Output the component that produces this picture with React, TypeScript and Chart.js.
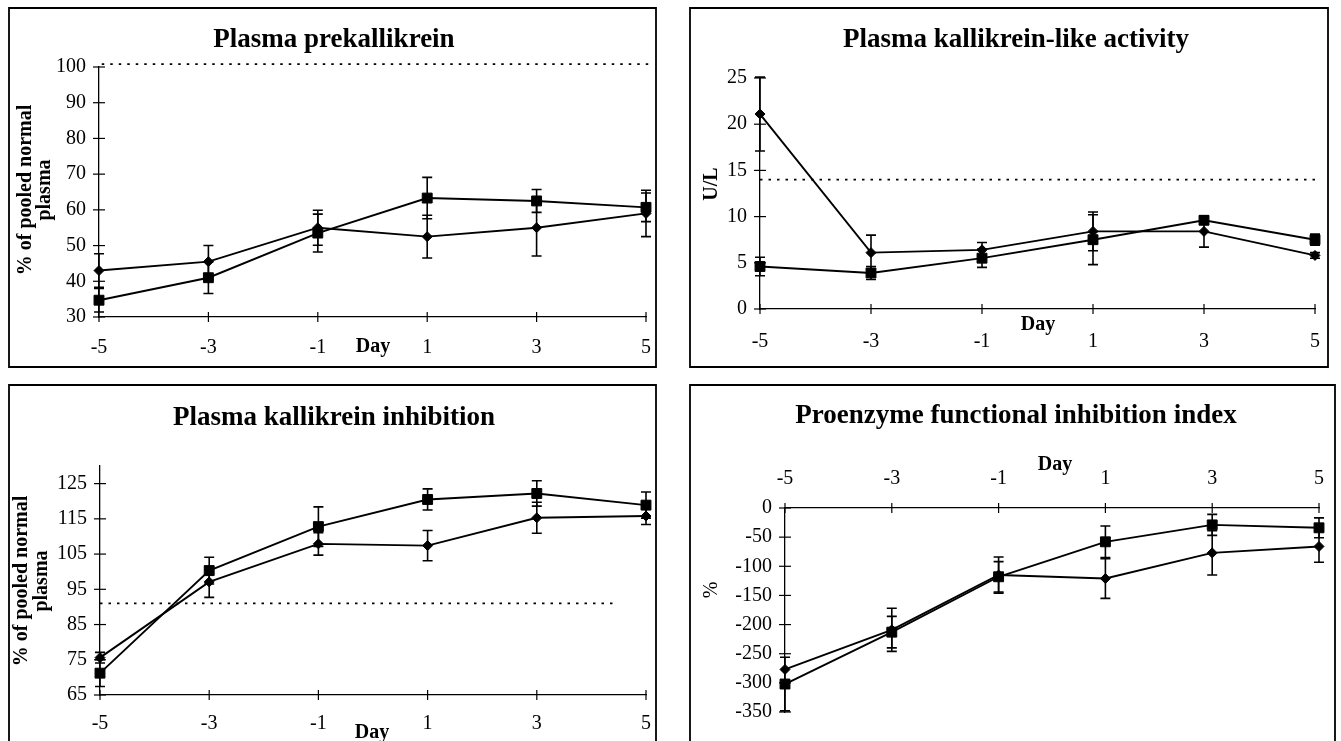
import React, { useEffect, useRef } from 'react';
import { Chart, registerables } from 'chart.js';
Chart.register(...registerables);

const days = [-5, -3, -1, 1, 3, 5];

// Panel 1: Plasma prekallikrein
const prekTitle = 'Plasma prekallikrein';
const prekYTicks = [30, 40, 50, 60, 70, 80, 90, 100];
const prekDiamond = [43, 45.5, 55, 52.5, 55, 59];
const prekDiamondErr = [4.7, 4.5, 4.9, 6, 7.9, 6.5];
const prekSquare = [34.7, 41, 53.5, 63.3, 62.5, 60.7];
const prekSquareErr = [3.3, 4.4, 5.3, 5.8, 3.2, 4];
const prekNormal = 100.8;
const prekNormalX = [-4.95, 5.1];

// Panel 2: Plasma kallikrein-like activity
const klaTitle = 'Plasma kallikrein-like activity';
const klaYTicks = [0, 5, 10, 15, 20, 25];
const klaDiamond = [21.1, 6.1, 6.4, 8.4, 8.4, 5.8];
const klaDiamondErr = [4, 1.9, 0.8, 2.1, 1.7, 0.3];
const klaSquare = [4.6, 3.9, 5.5, 7.5, 9.6, 7.5];
const klaSquareErr = [1, 0.7, 1, 2.7, 0.4, 0.6];
const klaNormal = 14;
const klaNormalX = [-5, 5];

// Panel 3: Plasma kallikrein inhibition
const kiTitle = 'Plasma kallikrein inhibition';
const kiYTicks = [65, 75, 85, 95, 105, 115, 125];
const kiDiamond = [75.6, 97.1, 107.9, 107.4, 115.3, 115.8];
const kiDiamondErr = [1.5, 4.4, 3.2, 4.3, 4.4, 2.4];
const kiSquare = [71.2, 100.3, 112.8, 120.5, 122.2, 118.9];
const kiSquareErr = [3.8, 3.8, 5.6, 3, 3.6, 3.7];
const kiNormal = 91;
const kiNormalX = [-5, 4.4];

// Panel 4: Proenzyme functional inhibition index
const pfiTitle = 'Proenzyme functional inhibition index';
const pfiYTicks = [-350, -300, -250, -200, -150, -100, -50, 0];
const pfiDiamond = [-277, -209, -115, -121, -77, -66];
const pfiDiamondErr = [0, 37, 31, 34, 38, 27];
const pfiSquare = [-302, -213, -118, -58, -29, -34];
const pfiSquareErr = [46, 27, 26, 27, 18, 17];

const FONT = "'Liberation Serif', 'Times New Roman', serif";

type Cfg = {
  left: number; top: number; width: number; height: number;
  title: string; titleX: number; titleY: number;
  yTitle: string[]; yTitleX: number[]; yTitleY: number; yTitleWeight: string;
  dayX: number; dayY: number;
  area: { left: number; right: number; top: number; bottom: number };
  border: { left: number; top: number; right: number; bottom: number; openBottom: boolean };
  yMin: number; yMax: number; yTicks: number[];
  xTop: boolean; xPad: number; yPad: number;
  diamond: number[]; diamondErr: number[];
  square: number[]; squareErr: number[];
  normal: number | null; normalX: number[];
};

const panels: Cfg[] = [
  {
    left: 0, top: 0, width: 670, height: 370,
    title: prekTitle, titleX: 334, titleY: 40,
    yTitle: ['% of pooled normal', 'plasma'], yTitleX: [26, 45], yTitleY: 190, yTitleWeight: 'bold',
    dayX: 373, dayY: 347,
    area: { left: 99, right: 646, top: 67, bottom: 317 },
    border: { left: 9, top: 8, right: 656, bottom: 367, openBottom: false },
    yMin: 30, yMax: 100, yTicks: prekYTicks, xTop: false, xPad: 19, yPad: 13,
    diamond: prekDiamond, diamondErr: prekDiamondErr, square: prekSquare, squareErr: prekSquareErr,
    normal: prekNormal, normalX: prekNormalX,
  },
  {
    left: 670, top: 0, width: 671, height: 370,
    title: klaTitle, titleX: 346, titleY: 40,
    yTitle: ['U/L'], yTitleX: [42], yTitleY: 184, yTitleWeight: 'bold',
    dayX: 368, dayY: 325,
    area: { left: 90, right: 646, top: 78, bottom: 309 },
    border: { left: 20, top: 8, right: 658, bottom: 367, openBottom: false },
    yMin: 0, yMax: 25, yTicks: klaYTicks, xTop: false, xPad: 21, yPad: 13,
    diamond: klaDiamond, diamondErr: klaDiamondErr, square: klaSquare, squareErr: klaSquareErr,
    normal: klaNormal, normalX: klaNormalX,
  },
  {
    left: 0, top: 370, width: 670, height: 371,
    title: kiTitle, titleX: 334, titleY: 48,
    yTitle: ['% of pooled normal', 'plasma'], yTitleX: [22, 42], yTitleY: 211, yTitleWeight: 'bold',
    dayX: 372, dayY: 363,
    area: { left: 100, right: 646, top: 96, bottom: 325 },
    border: { left: 9, top: 15, right: 656, bottom: 371, openBottom: true },
    yMin: 65, yMax: 130, yTicks: kiYTicks, xTop: false, xPad: 17, yPad: 13,
    diamond: kiDiamond, diamondErr: kiDiamondErr, square: kiSquare, squareErr: kiSquareErr,
    normal: kiNormal, normalX: kiNormalX,
  },
  {
    left: 670, top: 370, width: 671, height: 371,
    title: pfiTitle, titleX: 346, titleY: 46,
    yTitle: ['%'], yTitleX: [42], yTitleY: 220, yTitleWeight: 'normal',
    dayX: 385, dayY: 95,
    area: { left: 115, right: 653, top: 138, bottom: 342 },
    border: { left: 20, top: 15, right: 665, bottom: 371, openBottom: true },
    yMin: -350, yMax: 0, yTicks: pfiYTicks, xTop: true, xPad: 17, yPad: 13,
    diamond: pfiDiamond, diamondErr: pfiDiamondErr, square: pfiSquare, squareErr: pfiSquareErr,
    normal: null, normalX: [],
  },
];

function makePlugin(cfg: Cfg) {
  return {
    id: 'panelDecor',
    beforeDatasetsDraw(chart: any) {
      const ctx = chart.ctx as CanvasRenderingContext2D;
      const ys = chart.scales.y;
      const xs = chart.scales.x;
      ctx.save();
      ctx.strokeStyle = '#000';
      ctx.lineWidth = 1.6;
      const series: [number[], number[]][] = [
        [cfg.diamond, cfg.diamondErr],
        [cfg.square, cfg.squareErr],
      ];
      series.forEach(([vals, errs]) => {
        vals.forEach((v, i) => {
          const e = errs[i];
          if (!e) return;
          const px = xs.getPixelForValue(days[i]);
          const y1 = ys.getPixelForValue(v + e);
          const y2 = ys.getPixelForValue(v - e);
          ctx.beginPath();
          ctx.moveTo(px, y1);
          ctx.lineTo(px, y2);
          ctx.moveTo(px - 5, y1);
          ctx.lineTo(px + 5, y1);
          ctx.moveTo(px - 5, y2);
          ctx.lineTo(px + 5, y2);
          ctx.stroke();
        });
      });
      ctx.restore();
    },
    afterDraw(chart: any) {
      const ctx = chart.ctx as CanvasRenderingContext2D;
      const ca = chart.chartArea;
      const xs = chart.scales.x;
      const ys = chart.scales.y;
      ctx.save();
      ctx.strokeStyle = '#000';
      // crossing tick marks
      ctx.lineWidth = 1.2;
      const axisY = cfg.xTop ? ca.top : ca.bottom;
      xs.ticks.forEach((t: any) => {
        const px = xs.getPixelForValue(t.value);
        ctx.beginPath();
        ctx.moveTo(px, axisY - 5);
        ctx.lineTo(px, axisY + 5);
        ctx.stroke();
      });
      ys.ticks.forEach((t: any) => {
        const py = ys.getPixelForValue(t.value);
        ctx.beginPath();
        ctx.moveTo(ca.left - 6, py);
        ctx.lineTo(ca.left + 6, py);
        ctx.stroke();
      });
      // panel border
      const b = cfg.border;
      ctx.lineWidth = 1.8;
      ctx.beginPath();
      if (b.openBottom) {
        ctx.moveTo(b.left, b.bottom);
        ctx.lineTo(b.left, b.top);
        ctx.lineTo(b.right, b.top);
        ctx.lineTo(b.right, b.bottom);
      } else {
        ctx.rect(b.left, b.top, b.right - b.left, b.bottom - b.top);
      }
      ctx.stroke();
      // title
      ctx.fillStyle = '#000';
      ctx.textAlign = 'center';
      ctx.textBaseline = 'middle';
      ctx.font = `bold 27px ${FONT}`;
      ctx.fillText(cfg.title, cfg.titleX, cfg.titleY);
      // Day label
      ctx.font = `bold 20px ${FONT}`;
      ctx.fillText('Day', cfg.dayX, cfg.dayY);
      // y axis title
      ctx.font = `${cfg.yTitleWeight} 20px ${FONT}`;
      cfg.yTitle.forEach((line, i) => {
        ctx.save();
        ctx.translate(cfg.yTitleX[i], cfg.yTitleY);
        ctx.rotate(-Math.PI / 2);
        ctx.fillText(line, 0, 0);
        ctx.restore();
      });
      ctx.restore();
    },
  };
}

function Panel({ cfg }: { cfg: Cfg }) {
  const ref = useRef<HTMLCanvasElement | null>(null);
  useEffect(() => {
    if (!ref.current) return;
    const a = cfg.area;
    const datasets: any[] = [
      {
        data: days.map((d, i) => ({ x: d, y: cfg.diamond[i] })),
        borderColor: '#000',
        backgroundColor: '#000',
        borderWidth: 1.9,
        pointStyle: 'rectRot',
        pointRadius: 5,
        pointBorderWidth: 1,
        clip: false,
      },
      {
        data: days.map((d, i) => ({ x: d, y: cfg.square[i] })),
        borderColor: '#000',
        backgroundColor: '#000',
        borderWidth: 1.9,
        pointStyle: 'rect',
        pointRadius: 7,
        pointBorderWidth: 1,
        clip: false,
      },
    ];
    if (cfg.normal !== null) {
      datasets.push({
        data: cfg.normalX.map((x) => ({ x, y: cfg.normal })),
        borderColor: '#000',
        borderWidth: 1.6,
        borderDash: [2.5, 6],
        pointRadius: 0,
        clip: false,
      });
    }
    const tickFont = { family: FONT, size: 20 };
    const chart = new Chart(ref.current, {
      type: 'line',
      data: { datasets },
      plugins: [makePlugin(cfg)],
      options: {
        responsive: false,
        animation: false,
        events: [],
        layout: {
          padding: {
            left: 0,
            right: cfg.width - a.right,
            top: cfg.xTop ? 0 : a.top,
            bottom: cfg.xTop ? cfg.height - a.bottom : 0,
          },
        },
        plugins: { legend: { display: false }, tooltip: { enabled: false }, title: { display: false } },
        scales: {
          x: {
            type: 'linear',
            position: cfg.xTop ? 'top' : 'bottom',
            min: -5,
            max: 5,
            afterBuildTicks: (s: any) => {
              s.ticks = days.map((v) => ({ value: v }));
            },
            afterFit: (s: any) => {
              s.height = cfg.xTop ? a.top : cfg.height - a.bottom;
            },
            grid: { display: true, drawOnChartArea: false, drawTicks: false, color: 'rgba(0,0,0,0)' },
            border: { display: true, color: '#000', width: 1.3 },
            ticks: {
              padding: cfg.xPad,
              color: '#000',
              font: tickFont,
              autoSkip: false,
              maxRotation: 0,
              callback: (v: any) => String(v),
            },
          },
          y: {
            type: 'linear',
            min: cfg.yMin,
            max: cfg.yMax,
            afterBuildTicks: (s: any) => {
              s.ticks = cfg.yTicks.map((v) => ({ value: v }));
            },
            afterFit: (s: any) => {
              s.width = a.left;
            },
            grid: { display: true, drawOnChartArea: false, drawTicks: false, color: 'rgba(0,0,0,0)' },
            border: { display: true, color: '#000', width: 1.3 },
            ticks: {
              padding: cfg.yPad,
              color: '#000',
              font: tickFont,
              autoSkip: false,
              callback: (v: any) => String(v),
            },
          },
        },
      } as any,
    });
    return () => chart.destroy();
  }, [cfg]);
  return (
    <canvas
      ref={ref}
      width={cfg.width}
      height={cfg.height}
      style={{ position: 'absolute', left: cfg.left, top: cfg.top, width: cfg.width, height: cfg.height }}
    />
  );
}

export default function App() {
  useEffect(() => {
    document.body.style.margin = '0';
  }, []);
  return (
    <div style={{ position: 'relative', width: 1341, height: 741, background: '#fff', overflow: 'hidden' }}>
      {panels.map((p, i) => (
        <Panel key={i} cfg={p} />
      ))}
    </div>
  );
}
